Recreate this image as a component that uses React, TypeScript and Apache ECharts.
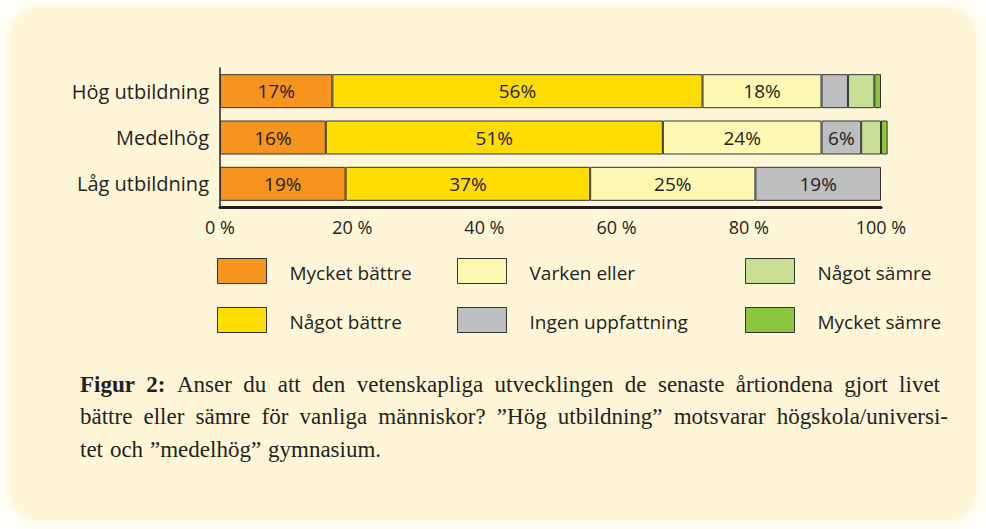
import React, { useEffect, useRef } from "react";
import * as echarts from "echarts";

const categories = ["Hög utbildning", "Medelhög", "Låg utbildning"];
const seriesNames = [
  "Mycket bättre",
  "Något bättre",
  "Varken eller",
  "Ingen uppfattning",
  "Något sämre",
  "Mycket sämre",
];
const myckeBattre = [17, 16, 19];
const nagotBattre = [56, 51, 37];
const varkenEller = [18, 24, 25];
const ingenUppfattning = [4, 6, 19];
const nagotSamre = [4, 3, null];
const myckeSamre = [1, 1, null];
const seriesValues = [myckeBattre, nagotBattre, varkenEller, ingenUppfattning, nagotSamre, myckeSamre];
const seriesColors = ["#F7941E", "#FFDD00", "#FFF8B3", "#BCBEC0", "#C9DF96", "#8DC63F"];

const legendColumns = [
  ["Mycket bättre", "Något bättre"],
  ["Varken eller", "Ingen uppfattning"],
  ["Något sämre", "Mycket sämre"],
];

const captionLines = [
  "Figur 2: Anser du att den vetenskapliga utvecklingen de senaste årtiondena gjort livet",
  "bättre eller sämre för vanliga människor? ”Hög utbildning” motsvarar högskola/universi-",
  "tet och ”medelhög” gymnasium.",
];

const TEXT = "#231F20";
const SANS = "'Open Sans', 'Noto Sans', sans-serif";
const SERIF = "'Liberation Serif', 'DejaVu Serif', serif";

function measure(ctx: CanvasRenderingContext2D, text: string, font: string) {
  ctx.font = font;
  return ctx.measureText(text).width;
}

function buildCaption() {
  const canvas = document.createElement("canvas");
  const ctx = canvas.getContext("2d") as CanvasRenderingContext2D;
  const size = 23;
  const normalFont = `${size}px 'Liberation Serif'`;
  const boldFont = `bold ${size}px 'Liberation Serif'`;
  const x0 = 80;
  const targets = [940, 948, null];
  const ys = [384, 416, 449];
  const elements: any[] = [];
  captionLines.forEach((line, li) => {
    const words = line.split(" ");
    const fonts = words.map((_, wi) => (li === 0 && wi < 2 ? boldFont : normalFont));
    const widths = words.map((w, wi) => measure(ctx, w, fonts[wi]));
    const sum = widths.reduce((a, b) => a + b, 0);
    const target = targets[li];
    const gap =
      target != null ? (target - x0 - sum) / (words.length - 1) : measure(ctx, " ", normalFont) * 1.2;
    let x = x0;
    words.forEach((w, wi) => {
      elements.push({
        type: "text",
        x,
        y: ys[li],
        z: 10,
        style: {
          text: w,
          fill: TEXT,
          fontSize: size,
          fontFamily: SERIF,
          fontWeight: li === 0 && wi < 2 ? "bold" : "normal",
          textAlign: "left",
          textVerticalAlign: "middle",
        },
      });
      x += widths[wi] + gap;
    });
  });
  return elements;
}

export default function App() {
  const ref = useRef<HTMLDivElement>(null);
  useEffect(() => {
    if (!ref.current) return;
    const chart = echarts.init(ref.current, null, { renderer: "svg" });
    const option: any = {
      animation: false,
      backgroundColor: "#FFFFFF",
      grid: { left: 220, right: 105, top: 68, bottom: 322, containLabel: false },
      xAxis: {
        type: "value",
        min: 0,
        max: 100,
        interval: 20,
        splitLine: { show: false },
        axisTick: { show: false },
        axisLine: { show: true, lineStyle: { color: TEXT, width: 3 } },
        axisLabel: {
          formatter: (v: number) => `${v} %`,
          color: TEXT,
          fontSize: 18,
          fontFamily: SANS,
          margin: 11,
        },
      },
      yAxis: {
        type: "category",
        data: categories,
        inverse: true,
        axisTick: { show: false },
        axisLine: { show: true, lineStyle: { color: TEXT, width: 1.5 } },
        axisLabel: { color: TEXT, fontSize: 20, fontFamily: SANS, margin: 11 },
      },
      legend: legendColumns.map((col, i) => ({
        data: col,
        left: [217, 457, 745][i],
        top: 258,
        padding: 0,
        orient: "vertical",
        icon: "rect",
        itemWidth: 49,
        itemHeight: 25,
        itemGap: 23,
        selectedMode: false,
        itemStyle: { borderColor: "#333333", borderWidth: 1 },
        formatter: (name: string) => `{t|${name}}`,
        textStyle: {
          color: TEXT,
          fontSize: 19,
          fontFamily: SANS,
          rich: { t: { padding: [4, 0, 0, 18], fontSize: 19, fontFamily: SANS, color: TEXT } },
        },
      })),
      series: seriesNames.map((name, i) => ({
        name,
        type: "bar",
        stack: "total",
        data: seriesValues[i],
        barWidth: 34,
        clip: false,
        itemStyle: { color: seriesColors[i], borderColor: "#333333", borderWidth: 1 },
        emphasis: { disabled: true },
        label: {
          show: true,
          position: "inside",
          formatter: (p: any) => (p.value >= 5 ? `${p.value}%` : ""),
          color: TEXT,
          fontSize: 19,
          fontFamily: SANS,
        },
      })),
      graphic: [
        {
          type: "rect",
          z: -10,
          shape: { x: 10, y: 8, width: 966, height: 512, r: 30 },
          style: { fill: "#FFF6D8", shadowBlur: 24, shadowColor: "rgba(255,244,205,1)" },
          silent: true,
        },
        ...buildCaption(),
      ],
    };
    chart.setOption(option);
    return () => chart.dispose();
  }, []);
  return (
    <div
      ref={ref}
      style={{ position: "absolute", left: 0, top: 0, width: 986, height: 529 }}
    />
  );
}
